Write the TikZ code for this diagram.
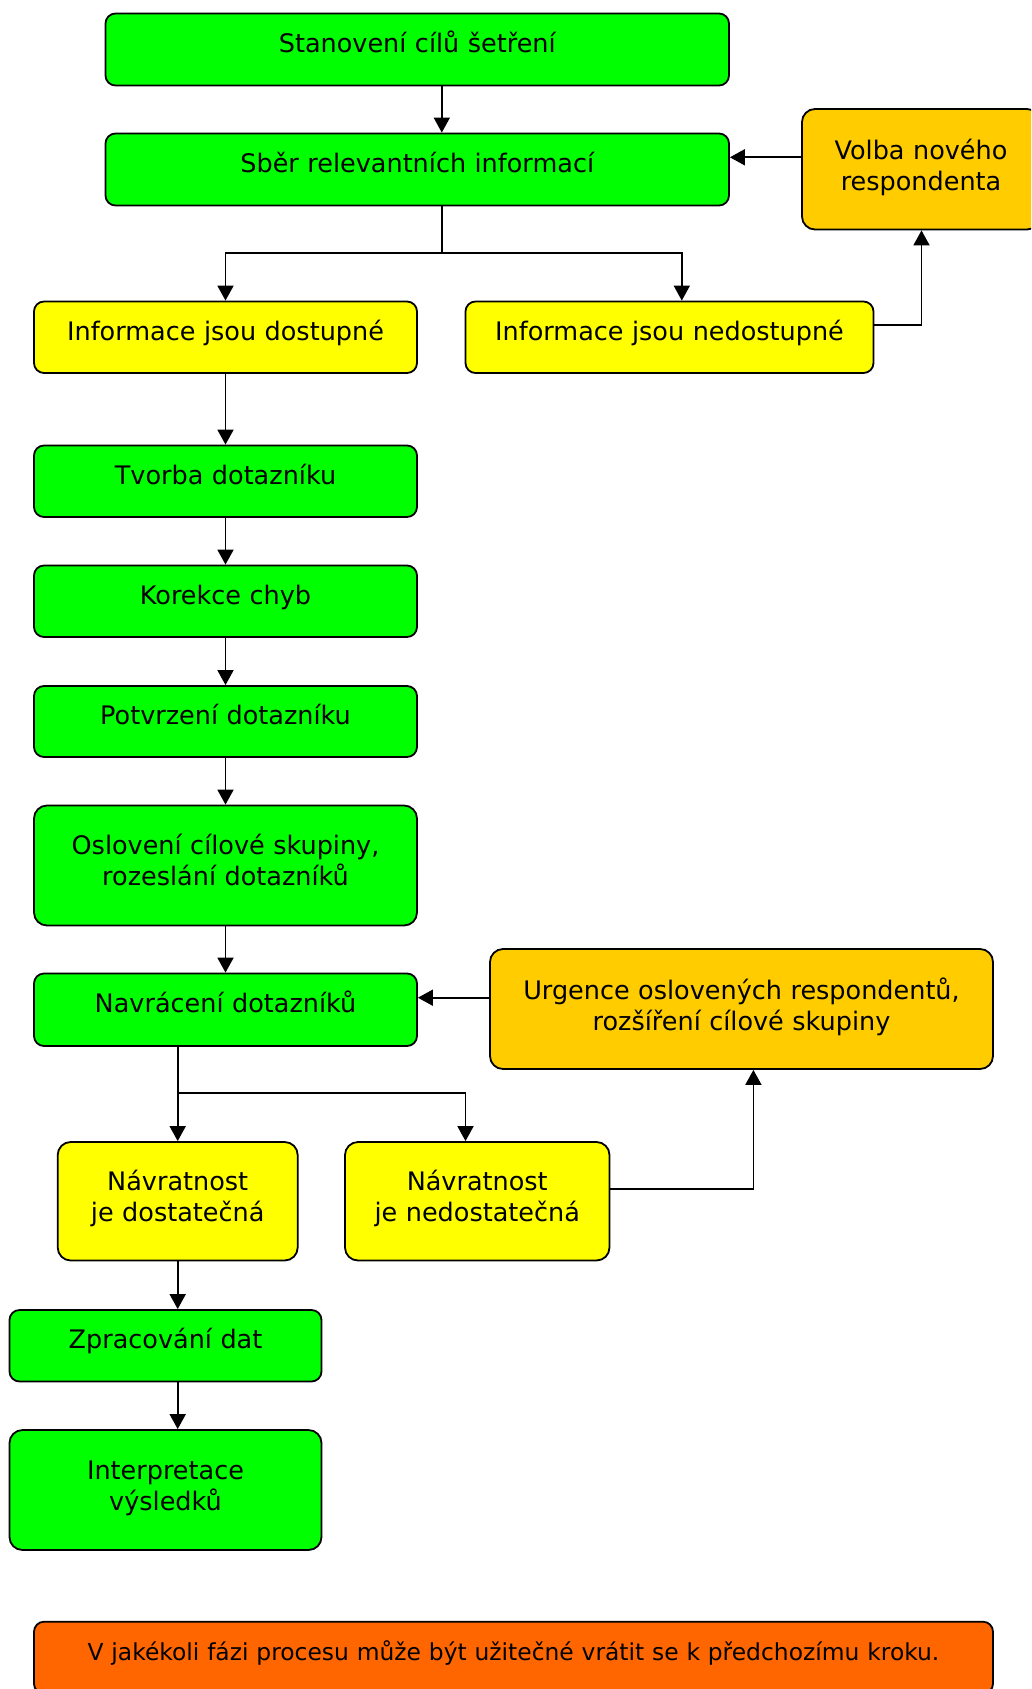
\documentclass[tikz,border=0pt]{standalone}
\usepackage{fontspec}
\setmainfont{DejaVu Sans}
\usetikzlibrary{arrows.meta,calc}

\definecolor{stepgreen}{HTML}{00FF00}
\definecolor{branchyellow}{HTML}{FFFF00}
\definecolor{loopgold}{HTML}{FFCC00}
\definecolor{noteorange}{HTML}{FF6600}

\newcommand{\boxfont}{\fontsize{25.5}{31}\selectfont}
\newcommand{\notefont}{\fontsize{23.4}{29}\selectfont}

\tikzset{
  x=1pt, y=-1pt,
  panel/.style={draw=black, line width=1.8pt, rounded corners=10pt, inner sep=0pt},
  tallpanel/.style={panel, rounded corners=13pt},
  greenbox/.style={panel, fill=stepgreen},
  yellowbox/.style={panel, fill=branchyellow},
  goldbox/.style={panel, fill=loopgold},
  notebox/.style={panel, fill=noteorange},
  label text/.style={font=\boxfont, anchor=base, align=center, inner sep=0pt, text width=#1},
  label text/.default=380pt,
  flow/.style={line width=1.8pt, -{Triangle[width=16pt,length=15pt]}},
  link/.style={line width=1.8pt},
}

\begin{document}
\begin{tikzpicture}
\useasboundingbox (0,0) rectangle (1031,1689);
\clip (0,0) rectangle (1031,1689);
\fill[white] (0,0) rectangle (1031,1689);

% --- boxes ---
\node[greenbox, minimum width=623.5pt, minimum height=72pt] (goals) at (417.25,49.5) {};
\node[greenbox, minimum width=623.5pt, minimum height=72pt] (collect) at (417.25,169.5) {};
\node[goldbox, tallpanel, minimum width=238pt, minimum height=120.5pt] (newresp) at (921,169.25) {};
\node[yellowbox, minimum width=383pt, minimum height=71.5pt] (avail) at (225.5,337.25) {};
\node[yellowbox, minimum width=408pt, minimum height=71.5pt] (unavail) at (669.5,337.25) {};
\node[greenbox, minimum width=383pt, minimum height=71.5pt] (create) at (225.5,481.25) {};
\node[greenbox, minimum width=383pt, minimum height=71.5pt] (fix) at (225.5,601.25) {};
\node[greenbox, minimum width=383pt, minimum height=71pt] (confirm) at (225.5,721.5) {};
\node[greenbox, tallpanel, minimum width=383pt, minimum height=120pt] (address) at (225.5,865.5) {};
\node[greenbox, minimum width=383pt, minimum height=72.5pt] (returned) at (225.5,1009.75) {};
\node[goldbox, tallpanel, minimum width=503pt, minimum height=120pt] (urge) at (741.5,1009) {};
\node[yellowbox, tallpanel, minimum width=240pt, minimum height=118.5pt] (enough) at (177.7,1201.25) {};
\node[yellowbox, tallpanel, minimum width=264.5pt, minimum height=118.5pt] (notenough) at (477.25,1201.25) {};
\node[greenbox, minimum width=312pt, minimum height=71.5pt] (process) at (165.5,1345.75) {};
\node[greenbox, tallpanel, minimum width=312pt, minimum height=120pt] (interpret) at (165.5,1490) {};
\node[notebox, minimum width=959pt, minimum height=72pt] (note) at (513.5,1657.7) {};

% --- texts ---
\node[label text=600pt] (goalsT) at (417.25,52.5) {Stanovení cílů šetření};
\node[label text=600pt] (collectT) at (417.25,172.5) {Sběr relevantních informací};
\node[label text=230pt] (newrespT) at (921,159.3) {Volba nového\\respondenta};
\node[label text] (availT) at (225.5,340.25) {Informace jsou dostupné};
\node[label text] (unavailT) at (669.5,340.25) {Informace jsou nedostupné};
\node[label text] (createT) at (225.5,484.25) {Tvorba dotazníku};
\node[label text] (fixT) at (225.5,604.25) {Korekce chyb};
\node[label text] (confirmT) at (225.5,724.5) {Potvrzení dotazníku};
\node[label text] (addressT) at (225.5,854.5) {Oslovení cílové skupiny,\\rozeslání dotazníků};
\node[label text] (returnedT) at (225.5,1012.75) {Navrácení dotazníků};
\node[label text=490pt] (urgeT) at (741.5,999.5) {Urgence oslovených respondentů,\\rozšíření cílové skupiny};
\node[label text=235pt] (enoughT) at (177.7,1190.25) {Návratnost\\je dostatečná};
\node[label text=260pt] (notenoughT) at (477.25,1190.25) {Návratnost\\je nedostatečná};
\node[label text=300pt] (processT) at (165.5,1348.75) {Zpracování dat};
\node[label text=300pt] (interpretT) at (165.5,1479.5) {Interpretace\\výsledků};
\node[label text=950pt, font=\notefont] (noteT) at (513.5,1660.2) {V jakékoli fázi procesu může být užitečné vrátit se k předchozímu kroku.};

% --- junction points of the connectors ---
\coordinate (split1) at (441.8,253.3);
\coordinate (split1r) at (681.8,253.3);
\coordinate (up1) at (921.5,325);
\coordinate (back1) at (760,157.3);
\coordinate (split2) at (177.7,1093.3);
\coordinate (split2r) at (465.5,1093.3);
\coordinate (up2) at (753.4,1189.3);
\coordinate (back2) at (450,997.7);

% --- connectors ---
\draw[flow] (goals.south -| split1) -- (collect.north -| split1);
\draw[link] (collect.south -| split1) -- (split1);
\draw[flow] (split1) -| (avail.north);
\draw[flow] (split1) -- (split1r) -- (unavail.north -| split1r);
\draw[flow] (unavail.east |- up1) -- (up1) -- (newresp.south -| up1);
\draw[flow] (newresp.west |- back1) -- (collect.east |- back1);

\draw[flow] (avail.south) -- (create.north);
\draw[flow] (create.south) -- (fix.north);
\draw[flow] (fix.south) -- (confirm.north);
\draw[flow] (confirm.south) -- (address.north);
\draw[flow] (address.south) -- (returned.north);

\draw[link] (returned.south -| split2) -- (split2);
\draw[flow] (split2) -- (enough.north -| split2);
\draw[flow] (split2) -- (split2r) -- (notenough.north -| split2r);
\draw[flow] (notenough.east |- up2) -- (up2) -- (urge.south -| up2);
\draw[flow] (urge.west |- back2) -- (returned.east |- back2);

\draw[flow] (enough.south -| split2) -- (process.north -| split2);
\draw[flow] (process.south -| split2) -- (interpret.north -| split2);
\end{tikzpicture}
\end{document}
